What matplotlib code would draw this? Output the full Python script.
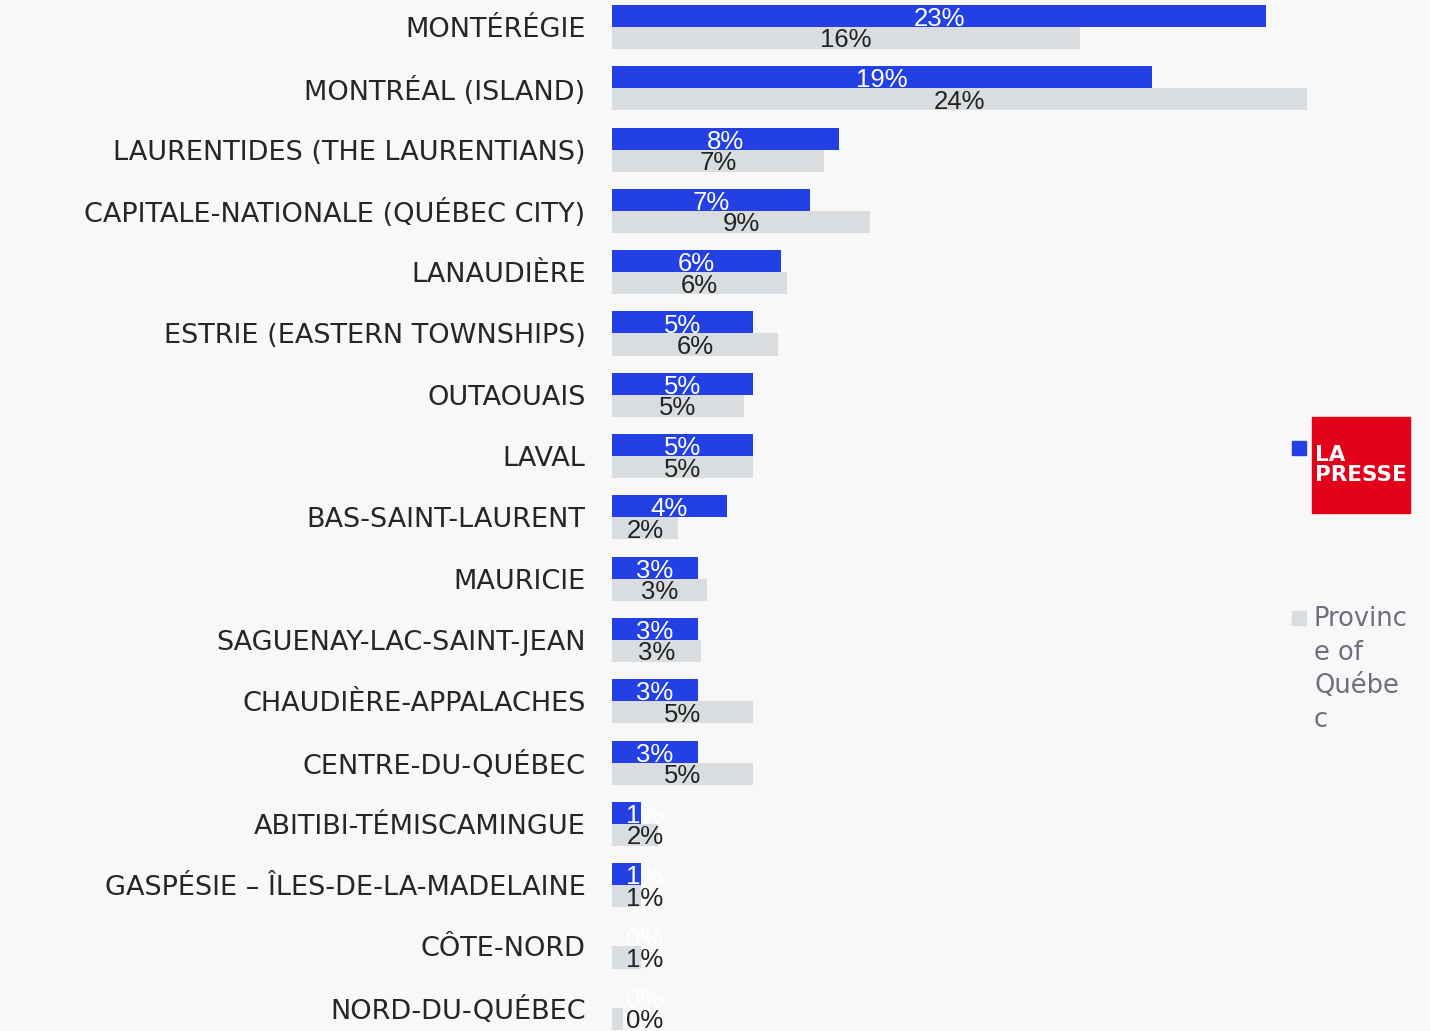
import numpy as np
import matplotlib
matplotlib.use('Agg')
import matplotlib.pyplot as plt
from matplotlib.patches import Rectangle

# data (percent of readership vs. population, by region)
regions = ['MONTÉRÉGIE', 'MONTRÉAL (ISLAND)', 'LAURENTIDES (THE LAURENTIANS)',
           'CAPITALE-NATIONALE (QUÉBEC CITY)', 'LANAUDIÈRE', 'ESTRIE (EASTERN TOWNSHIPS)',
           'OUTAOUAIS', 'LAVAL', 'BAS-SAINT-LAURENT', 'MAURICIE',
           'SAGUENAY-LAC-SAINT-JEAN', 'CHAUDIÈRE-APPALACHES', 'CENTRE-DU-QUÉBEC',
           'ABITIBI-TÉMISCAMINGUE', 'GASPÉSIE – ÎLES-DE-LA-MADELAINE', 'CÔTE-NORD',
           'NORD-DU-QUÉBEC']
la_presse = [22.8, 18.8, 7.9, 6.9, 5.9, 4.9, 4.9, 4.9, 4.0, 3.0, 3.0, 3.0, 3.0, 1.0, 1.0, 0.0, 0.0]
province = [16.3, 24.2, 7.4, 9.0, 6.1, 5.8, 4.6, 4.9, 2.3, 3.3, 3.1, 4.9, 4.9, 1.6, 1.0, 1.0, 0.4]
series_names = ['LA PRESSE', 'Province of Québec']

BLUE = '#2340E4'
GREY = '#D9DDDF'
BG = '#F8F8F8'

W, H = 1430, 1031
fig = plt.figure(figsize=(W / 100, H / 100), dpi=100, facecolor=BG)

# axes placed in pixel terms: x from 612 px, 28.7 px per percent; rows 61.3 px apart
px_per_pct = 28.7
row = 61.3
left, right = 612, 1310
y_top = 27 - 0.5 * row
y_bot = 27 + 16.5 * row
ax = fig.add_axes([left / W, 1 - y_bot / H, (right - left) / W, (y_bot - y_top) / H])
ax.patch.set_alpha(0)

y = np.arange(len(regions))
h = 0.36
ax.barh(y - h / 2, la_presse, height=h, color=BLUE)
ax.barh(y + h / 2, province, height=h, color=GREY)
ax.set_xlim(0, (right - left) / px_per_pct)
ax.set_ylim(len(regions) - 0.5, -0.5)

val_font = ['Liberation Sans', 'DejaVu Sans']
for i in range(len(regions)):
    a, b = la_presse[i], province[i]
    ax.text(max(a / 2, 1.15), i - h / 2 + 0.05, '%d%%' % round(a), ha='center', va='center',
            color='white', fontsize=18.5, family=val_font)
    ax.text(max(b / 2, 1.15), i + h / 2 + 0.04, '%d%%' % round(b), ha='center', va='center',
            color='#222222', fontsize=18.5, family=val_font)

ax.set_yticks(y)
ax.set_yticklabels(regions, fontsize=19.5, color='#262626', family='DejaVu Sans')
ax.tick_params(axis='y', length=0, pad=19)
ax.set_xticks([])
for s in ax.spines.values():
    s.set_visible(False)

# legend
lg = fig.add_axes([0, 0, 1, 1])
lg.set_xlim(0, W)
lg.set_ylim(H, 0)
lg.axis('off')
lg.patch.set_alpha(0)
lg.add_patch(Rectangle((1292, 441), 14, 14, color=BLUE))
lg.add_patch(Rectangle((1312, 417), 98, 96, color='#E2001A'))
lg.text(1315, 465, 'LA\nPRESSE', color='white', fontsize=15.5, fontweight='bold',
        va='center', ha='left', linespacing=0.95, family='DejaVu Sans')
lg.add_patch(Rectangle((1292, 611), 14, 14, color=GREY))
lg.text(1314, 606, 'Provinc\ne of\nQuébe\nc', color='#6E6E7E', fontsize=18.5,
        va='top', ha='left', linespacing=1.38, family='DejaVu Sans')

fig.savefig('out.png', dpi=100, facecolor=BG)
